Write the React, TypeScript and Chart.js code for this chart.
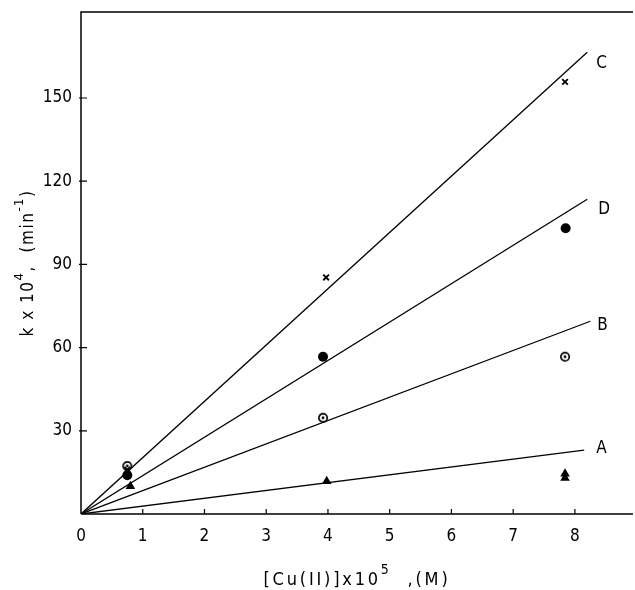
import React, { useEffect, useRef } from "react";
import { Chart, registerables } from "chart.js";

Chart.register(...registerables);

// Data
const xTickValues = [0, 1, 2, 3, 4, 5, 6, 7, 8];
const yTickValues = [30, 60, 90, 120, 150];

const seriesNames = ["C", "D", "B", "A"];
// fitted lines: start at origin, end point
const fitEndX = [8.2, 8.2, 8.25, 8.15];
const fitEndY = [166.5, 113.5, 69.5, 23];

// measured points
const cX = [0.75, 3.97, 7.84];
const cY = [16, 85.3, 155.8];
const dX = [0.75, 3.92, 7.85];
const dY = [14, 56.7, 103];
const bX = [0.75, 3.92, 7.84];
const bY = [17.3, 34.7, 56.7];
const aX = [0.8, 3.98, 7.84, 7.84];
const aY = [10, 11.8, 13, 14.5];

const xTitleParts = [
  { t: "[Cu(II)]x10", sup: false },
  { t: "5", sup: true },
  { t: "  ,(M)", sup: false },
];
const yTitleParts = [
  { t: "k x 10", sup: false },
  { t: "4", sup: true },
  { t: ",  (min", sup: false },
  { t: "-1", sup: true },
  { t: ")", sup: false },
];

const FONT = "'DejaVu Sans Condensed', 'Liberation Sans Narrow', 'DejaVu Sans', sans-serif";
const labelOffsets = [
  [9, 11],
  [11, 10],
  [7, 4],
  [12, -2],
];

function pts(xs: number[], ys: number[]) {
  return xs.map((x, i) => ({ x, y: ys[i] }));
}

function makeCircleDot(): HTMLCanvasElement {
  const c = document.createElement("canvas");
  c.width = 12;
  c.height = 12;
  const ctx = c.getContext("2d")!;
  ctx.strokeStyle = "#000";
  ctx.lineWidth = 1.7;
  ctx.beginPath();
  ctx.arc(6, 6, 4.2, 0, Math.PI * 2);
  ctx.stroke();
  ctx.fillStyle = "#000";
  ctx.beginPath();
  ctx.arc(6, 6, 1.4, 0, Math.PI * 2);
  ctx.fill();
  return c;
}

function drawRich(ctx: CanvasRenderingContext2D, parts: { t: string; sup: boolean }[], size: number) {
  const mainFont = size + "px " + FONT;
  const supFont = Math.round(size * 0.75) + "px " + FONT;
  let total = 0;
  const widths = parts.map((p) => {
    ctx.font = p.sup ? supFont : mainFont;
    const w = ctx.measureText(p.t).width;
    total += w;
    return w;
  });
  let x = -total / 2;
  parts.forEach((p, i) => {
    ctx.font = p.sup ? supFont : mainFont;
    ctx.fillText(p.t, x, p.sup ? -size * 0.55 : 0);
    x += widths[i];
  });
}

export default function App() {
  const ref = useRef<HTMLCanvasElement | null>(null);

  useEffect(() => {
    if (!ref.current) return;
    const circleDot = makeCircleDot();

    const fitDatasets = seriesNames.map((name, i) => ({
      label: "fit " + name,
      data: [
        { x: 0, y: 0 },
        { x: fitEndX[i], y: fitEndY[i] },
      ],
      showLine: true,
      borderColor: "#000",
      borderWidth: 1.3,
      pointRadius: 0,
      fill: false,
    }));

    const frameAndTicks = {
      id: "frameAndTicks",
      afterDraw(chart: any) {
        const { ctx, chartArea, scales } = chart;
        ctx.save();
        ctx.strokeStyle = "#000";
        ctx.lineWidth = 1.5;
        ctx.beginPath();
        ctx.moveTo(chartArea.left, chartArea.bottom);
        ctx.lineTo(chartArea.left, chartArea.top);
        ctx.lineTo(chart.width - 2, chartArea.top);
        ctx.moveTo(chartArea.left, chartArea.bottom);
        ctx.lineTo(chart.width - 2, chartArea.bottom);
        ctx.stroke();
        ctx.lineWidth = 1.2;
        ctx.beginPath();
        xTickValues.forEach((v) => {
          if (v === 0) return;
          const px = scales.x.getPixelForValue(v);
          ctx.moveTo(px, chartArea.bottom);
          ctx.lineTo(px, chartArea.bottom - 5);
        });
        yTickValues.forEach((v) => {
          const py = scales.y.getPixelForValue(v);
          ctx.moveTo(chartArea.left - 2, py);
          ctx.lineTo(chartArea.left + 6, py);
        });
        ctx.stroke();
        // series labels
        ctx.fillStyle = "#000";
        ctx.font = "17px " + FONT;
        ctx.textAlign = "left";
        ctx.textBaseline = "middle";
        seriesNames.forEach((name, i) => {
          const meta = chart.getDatasetMeta(i);
          const el = meta.data[meta.data.length - 1];
          ctx.fillText(name, el.x + labelOffsets[i][0], el.y + labelOffsets[i][1]);
        });
        // axis titles with superscripts
        ctx.textAlign = "left";
        ctx.textBaseline = "middle";
        ctx.save();
        (ctx as any).letterSpacing = "2.8px";
        ctx.translate(357, 580);
        drawRich(ctx, xTitleParts, 18);
        ctx.restore();
        ctx.save();
        (ctx as any).letterSpacing = "1.5px";
        ctx.translate(29, (chartArea.top + chartArea.bottom) / 2);
        ctx.rotate(-Math.PI / 2);
        drawRich(ctx, yTitleParts, 17);
        ctx.restore();
        ctx.restore();
      },
    };

    const chart = new Chart(ref.current, {
      type: "scatter",
      data: {
        datasets: [
          ...fitDatasets,
          {
            label: "C",
            data: pts(cX, cY),
            pointStyle: "crossRot",
            pointRadius: 4,
            borderColor: "#000",
            borderWidth: 1.8,
            backgroundColor: "#000",
          },
          {
            label: "D",
            data: pts(dX, dY),
            pointStyle: "circle",
            pointRadius: 5,
            borderColor: "#000",
            backgroundColor: "#000",
            borderWidth: 0,
          },
          {
            label: "B",
            data: pts(bX, bY),
            pointStyle: circleDot as any,
            pointRadius: 6,
          },
          {
            label: "A",
            data: pts(aX, aY),
            pointStyle: "triangle",
            pointRadius: 5.5,
            borderColor: "#000",
            backgroundColor: "#000",
            borderWidth: 0,
          },
        ] as any,
      },
      options: {
        animation: false,
        responsive: false,
        layout: { padding: { top: 12, right: 2, left: 0, bottom: 0 } },
        plugins: {
          legend: { display: false },
          tooltip: { enabled: false },
        },
        scales: {
          x: {
            type: "linear",
            min: 0,
            max: 8.86,
            border: { display: false },
            grid: { display: false, drawTicks: false },
            afterFit(scale: any) {
              scale.height = 76;
              scale.paddingLeft = 0;
              scale.paddingRight = 0;
            },
            afterBuildTicks(scale: any) {
              scale.ticks = xTickValues.map((v) => ({ value: v }));
            },
            ticks: {
              padding: 12,
              color: "#000",
              font: { size: 17, family: FONT },
              callback: (v: any) => String(v),
            },
          },
          y: {
            type: "linear",
            min: 0,
            max: 181,
            border: { display: false },
            grid: { display: false, drawTicks: false },
            afterFit(scale: any) {
              scale.width = 81;
              scale.paddingTop = 0;
              scale.paddingBottom = 0;
            },
            afterBuildTicks(scale: any) {
              scale.ticks = yTickValues.map((v) => ({ value: v }));
            },
            ticks: {
              padding: 9,
              color: "#000",
              font: { size: 17, family: FONT },
              callback: (v: any) => String(v),
            },
          },
        },
      },
      plugins: [frameAndTicks],
    } as any);

    return () => chart.destroy();
  }, []);

  return (
    <div style={{ position: "fixed", left: 0, top: 0, width: 635, height: 590, background: "#fff" }}>
      <canvas ref={ref} width={635} height={590} />
    </div>
  );
}
